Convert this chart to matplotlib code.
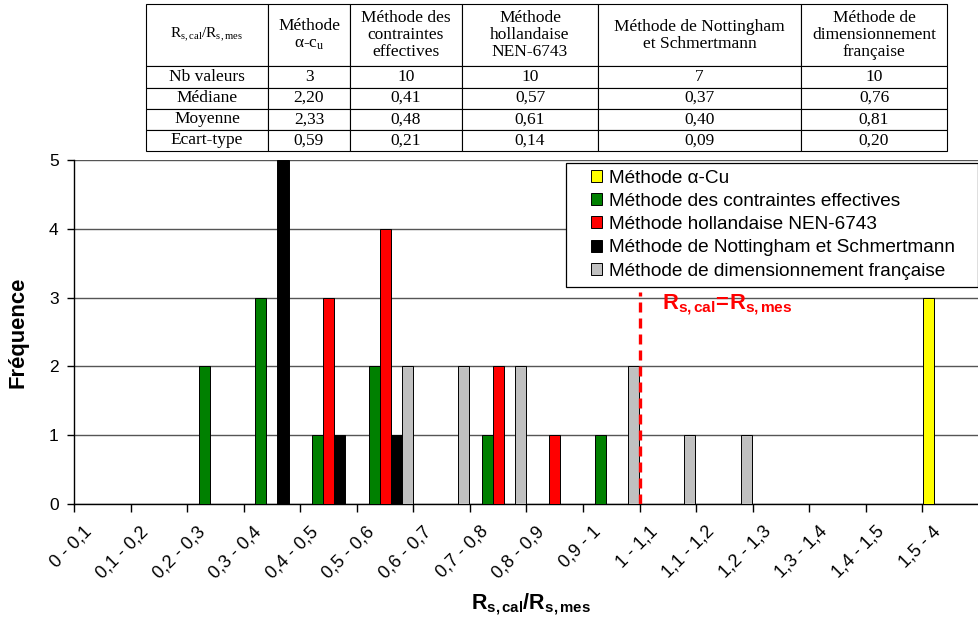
"""Histogram of R_s,cal/R_s,mes by design method, with summary table."""

import matplotlib
matplotlib.use("Agg")
import matplotlib.pyplot as plt
import matplotlib.patches as mpatches
import matplotlib.transforms as mtransforms
import numpy as np

plt.rcParams.update({
    "font.family": "Liberation Sans",
    "mathtext.fontset": "custom",
    "mathtext.rm": "Liberation Serif",
    "mathtext.it": "Liberation Serif:italic",
    "mathtext.bf": "Liberation Sans:bold",
})

# Classes of R_s,cal/R_s,mes
classes = ["0 - 0,1", "0,1 - 0,2", "0,2 - 0,3", "0,3 - 0,4", "0,4 - 0,5",
           "0,5 - 0,6", "0,6 - 0,7", "0,7 - 0,8", "0,8 - 0,9", "0,9 - 1",
           "1 - 1,1", "1,1 - 1,2", "1,2 - 1,3", "1,3 - 1,4", "1,4 - 1,5", "1,5 - 4"]

# Frequencies per method
freq_alpha_cu = [0, 0, 0, 0, 0, 0, 0, 0, 0, 0, 0, 0, 0, 0, 0, 3]
freq_contraintes = [0, 0, 2, 3, 1, 2, 0, 1, 0, 1, 0, 0, 0, 0, 0, 0]
freq_hollandaise = [0, 0, 0, 0, 3, 4, 0, 2, 1, 0, 0, 0, 0, 0, 0, 0]
freq_nottingham = [0, 0, 0, 5, 1, 1, 0, 0, 0, 0, 0, 0, 0, 0, 0, 0]
freq_francaise = [0, 0, 0, 0, 0, 2, 2, 2, 0, 2, 1, 1, 0, 0, 0, 0]

series = [freq_alpha_cu, freq_contraintes, freq_hollandaise, freq_nottingham, freq_francaise]
labels = ["Méthode α-Cu", "Méthode des contraintes effectives",
          "Méthode hollandaise NEN-6743", "Méthode de Nottingham et Schmertmann",
          "Méthode de dimensionnement française"]
colors = ["#FFFF00", "#008000", "#FF0000", "#000000", "#C0C0C0"]

# Summary table
table_headers = [r"R$_\mathrm{s,cal}$/R$_\mathrm{s,mes}$", "Méthode\nα-c$_\mathrm{u}$",
                 "Méthode des\ncontraintes\neffectives", "Méthode\nhollandaise\nNEN-6743",
                 "Méthode de Nottingham\net Schmertmann",
                 "Méthode de\ndimensionnement\nfrançaise"]
row_labels = ["Nb valeurs", "Médiane", "Moyenne", "Ecart-type"]
nb_valeurs = [3, 10, 10, 7, 10]
mediane = [2.20, 0.41, 0.57, 0.37, 0.76]
moyenne = [2.33, 0.48, 0.61, 0.40, 0.81]
ecart_type = [0.59, 0.21, 0.14, 0.09, 0.20]

W, H = 979, 624
fig = plt.figure(figsize=(W / 100, H / 100), dpi=100)
ax = fig.add_axes([74 / W, 120 / H, 905 / W, 344 / H])

x = np.arange(len(classes))
n = len(series)
width = 0.195
handles = []
for i, (vals, col) in enumerate(zip(series, colors)):
    b = ax.bar(x + (i - (n - 1) / 2) * width, vals, width, color=col,
               edgecolor="black", linewidth=0.7, zorder=3)
    handles.append(b)

ax.set_xlim(-0.5, -0.5 + 905 / 57.1)
ax.set_ylim(0, 5)
ax.set_yticks(range(0, 6))
ax.yaxis.grid(True, color="#555555", linewidth=1.0, zorder=0)
ax.set_axisbelow(True)
for s in ["top", "right"]:
    ax.spines[s].set_visible(False)
ax.spines["left"].set_linewidth(1.0)
ax.spines["bottom"].set_linewidth(1.0)

# Category labels, rotated, ending just left of / below each class centre
ax.set_xticks(x)
ax.set_xticklabels([])
ax.tick_params(axis="x", which="major", length=0)
shift = mtransforms.ScaledTranslation(-13 / 100, -25 / 100, fig.dpi_scale_trans)
for xi, lab in zip(x, classes):
    ax.text(xi, 0, lab, transform=ax.get_xaxis_transform() + shift,
            rotation=45, ha="right", va="center", rotation_mode="anchor",
            fontsize=13)
ax.set_xticks(np.arange(-0.5, len(classes), 1), minor=True)
ax.tick_params(axis="x", which="minor", length=6, width=1.0)
ax.tick_params(axis="y", length=5, width=1.0, labelsize=12.5, pad=6)

# Rs,cal = Rs,mes line
ax.plot([9.5, 9.5], [0, 3.08], color="red", linewidth=2.4,
        linestyle=(0, (3.0, 1.8)), zorder=4)
ax.text(9.9, 2.9, r"$\mathbf{R_{s,cal}\!=\!R_{s,mes}}$", color="red",
        fontsize=15.8, ha="left", va="center")

fig.text(531 / W, 1 - 604 / H, r"$\mathbf{R_{s,cal}/R_{s,mes}}$",
         ha="center", va="center", fontsize=15.5)
fig.text(18 / W, 1 - 332 / H, "Fréquence", rotation=90, ha="center",
         va="center", fontsize=15.8, fontweight="bold")

# Legend with square box
box = mpatches.Rectangle((566 / W, 1 - 287 / H), 412 / W, 124 / H,
                         transform=fig.transFigure, facecolor="white",
                         edgecolor="black", linewidth=0.9, zorder=3)
fig.add_artist(box)
leg = fig.legend(handles, labels, loc="upper left",
                 bbox_to_anchor=(581 / W, 1 - 160 / H), frameon=False,
                 fontsize=13.7, handlelength=0.6, handleheight=0.6,
                 handletextpad=0.35, labelspacing=0.33, borderpad=0.0)
leg.set_zorder(4)

# Table
col_px = [122, 82, 112, 136, 203, 146]
tax = fig.add_axes([146 / W, 1 - 151 / H, 801 / W, 147 / H])
tax.axis("off")
fmt = lambda v: f"{v:.2f}".replace(".", ",")
cell_text = [
    [row_labels[0]] + [str(v) for v in nb_valeurs],
    [row_labels[1]] + [fmt(v) for v in mediane],
    [row_labels[2]] + [fmt(v) for v in moyenne],
    [row_labels[3]] + [fmt(v) for v in ecart_type],
]
tbl = tax.table(cellText=cell_text, colLabels=table_headers,
                colWidths=[c / sum(col_px) for c in col_px],
                cellLoc="center", bbox=[0, 0, 1, 1])
tbl.auto_set_font_size(False)
tbl.set_fontsize(12.5)
for (r, c), cell in tbl.get_celld().items():
    cell.set_height(62 if r == 0 else 21)
    cell.set_linewidth(0.8)
    t = cell.get_text()
    t.set_fontfamily("Liberation Serif")
    t.set_linespacing(1.1)
    if r == 0 and c == 0:
        t.set_fontsize(11)

fig.savefig("out.png", dpi=100)
